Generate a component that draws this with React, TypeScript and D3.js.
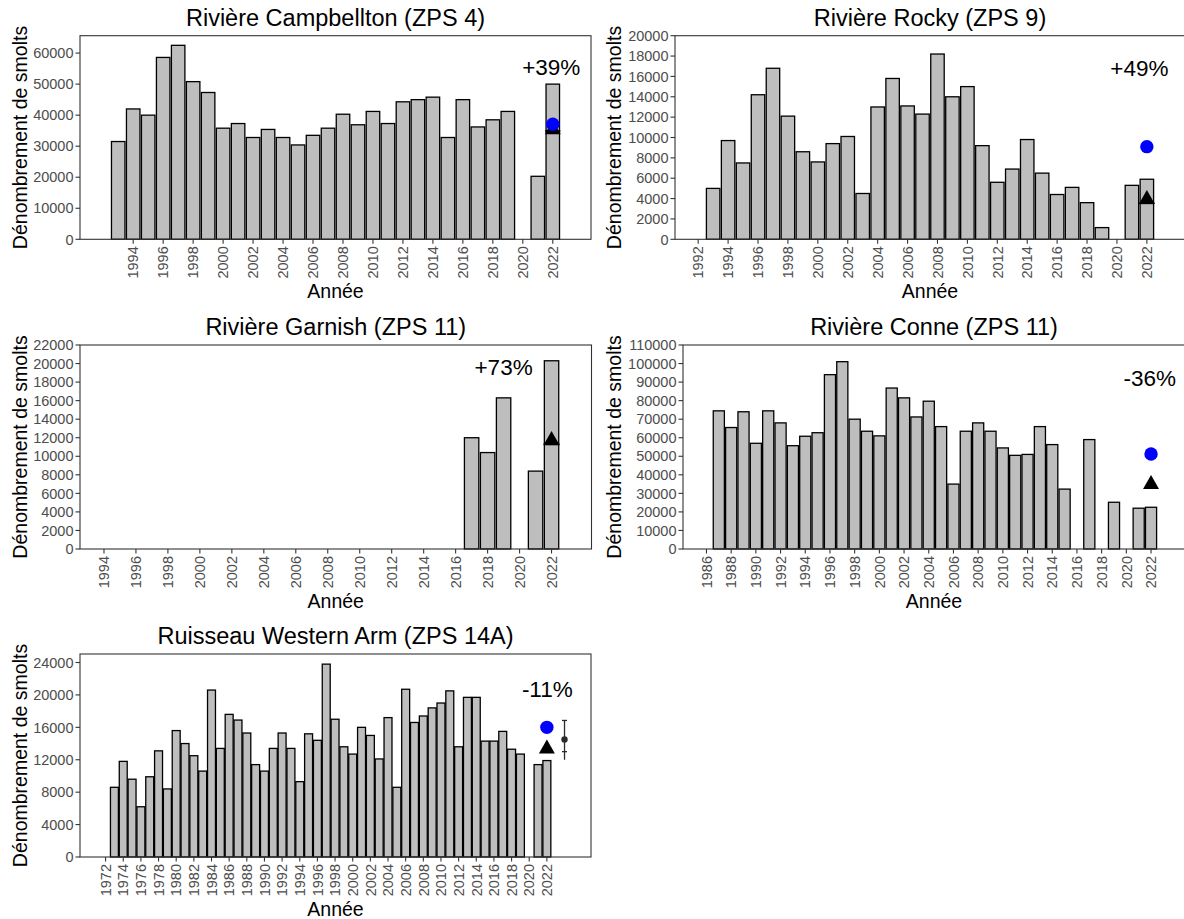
import React from 'react';
import * as d3 from 'd3';

// ---------------- DATA ----------------
const campbelltonYears = [1993, 1994, 1995, 1996, 1997, 1998, 1999, 2000, 2001, 2002, 2003, 2004, 2005, 2006, 2007, 2008, 2009, 2010, 2011, 2012, 2013, 2014, 2015, 2016, 2017, 2018, 2019, 2021, 2022];
const campbelltonCounts = [31500, 42000, 40000, 58600, 62500, 50800, 47300, 35800, 37300, 32800, 35400, 32800, 30400, 33500, 35800, 40300, 36900, 41200, 37300, 44300, 45000, 45800, 32800, 45000, 36200, 38500, 41200, 20300, 50000];
const campbelltonTicksX = [1994, 1996, 1998, 2000, 2002, 2004, 2006, 2008, 2010, 2012, 2014, 2016, 2018, 2020, 2022];
const campbelltonTicksY = [0, 10000, 20000, 30000, 40000, 50000, 60000];

const rockyYears = [1993, 1994, 1995, 1996, 1997, 1998, 1999, 2000, 2001, 2002, 2003, 2004, 2005, 2006, 2007, 2008, 2009, 2010, 2011, 2012, 2013, 2014, 2015, 2016, 2017, 2018, 2019, 2021, 2022];
const rockyCounts = [5000, 9700, 7500, 14200, 16800, 12100, 8600, 7600, 9400, 10100, 4500, 13000, 15800, 13100, 12300, 18200, 14000, 15000, 9200, 5600, 6900, 9800, 6500, 4400, 5100, 3600, 1150, 5300, 5900];
const rockyTicksX = [1992, 1994, 1996, 1998, 2000, 2002, 2004, 2006, 2008, 2010, 2012, 2014, 2016, 2018, 2020, 2022];
const rockyTicksY = [0, 2000, 4000, 6000, 8000, 10000, 12000, 14000, 16000, 18000, 20000];

const garnishYears = [2017, 2018, 2019, 2021, 2022];
const garnishCounts = [12000, 10400, 16300, 8400, 20300];
const garnishTicksX = [1994, 1996, 1998, 2000, 2002, 2004, 2006, 2008, 2010, 2012, 2014, 2016, 2018, 2020, 2022];
const garnishTicksY = [0, 2000, 4000, 6000, 8000, 10000, 12000, 14000, 16000, 18000, 20000, 22000];

const conneYears = [1987, 1988, 1989, 1990, 1991, 1992, 1993, 1994, 1995, 1996, 1997, 1998, 1999, 2000, 2001, 2002, 2003, 2004, 2005, 2006, 2007, 2008, 2009, 2010, 2011, 2012, 2013, 2014, 2015, 2017, 2019, 2021, 2022];
const conneCounts = [74500, 65500, 74000, 57000, 74500, 68000, 55700, 60800, 62700, 94000, 101000, 70000, 63500, 61000, 86800, 81500, 71200, 79700, 66000, 35000, 63500, 68000, 63500, 54500, 50500, 51000, 66000, 56300, 32300, 59000, 25200, 22000, 22500];
const conneTicksX = [1986, 1988, 1990, 1992, 1994, 1996, 1998, 2000, 2002, 2004, 2006, 2008, 2010, 2012, 2014, 2016, 2018, 2020, 2022];
const conneTicksY = [0, 10000, 20000, 30000, 40000, 50000, 60000, 70000, 80000, 90000, 100000, 110000];

const westernArmYears = [1973, 1974, 1975, 1976, 1977, 1978, 1979, 1980, 1981, 1982, 1983, 1984, 1985, 1986, 1987, 1988, 1989, 1990, 1991, 1992, 1993, 1994, 1995, 1996, 1997, 1998, 1999, 2000, 2001, 2002, 2003, 2004, 2005, 2006, 2007, 2008, 2009, 2010, 2011, 2012, 2013, 2014, 2015, 2016, 2017, 2018, 2019, 2021, 2022];
const westernArmCounts = [8600, 11800, 9600, 6200, 9900, 13100, 8400, 15600, 14000, 12500, 10600, 20600, 13400, 17600, 16900, 15300, 11400, 10600, 13400, 15300, 13400, 9300, 15200, 14400, 23800, 17000, 13600, 12700, 16000, 15000, 12100, 17200, 8600, 20700, 16600, 17400, 18400, 19000, 20500, 13600, 19700, 19700, 14300, 14300, 15500, 13300, 12700, 11400, 11900];
const westernArmTicksX = [1972, 1974, 1976, 1978, 1980, 1982, 1984, 1986, 1988, 1990, 1992, 1994, 1996, 1998, 2000, 2002, 2004, 2006, 2008, 2010, 2012, 2014, 2016, 2018, 2020, 2022];
const westernArmTicksY = [0, 4000, 8000, 12000, 16000, 20000, 24000];

// markers for 2022 (blue dot, black triangle, black reference line) in data units
const markerYear = 2022;
const blueValues = [37100, 9100, null, 51200, 16000];
const triangleValues = [36100, 4150, 11970, 36100, 13650];
const refLineValues = [34900, 3550, 11290, null, null];

// percent labels and their anchors (data units)
const pctLabels = ['+39%', '+49%', '+73%', '-36%', '-11%'];
const pctLabelYears = [2021.9, 2021.5, 2019, 2021.9, 2022.05];
const pctLabelValues = [55500, 16800, 19660, 92200, 20750];

// Western Arm estimate with interval
const estimateYear = 2024;
const estimateValue = 14500;
const estimateLow = 12000;
const estimateHigh = 16850;
const estimateCapLow = 13000;

const titles = [
  'Rivière Campbellton (ZPS 4)',
  'Rivière Rocky (ZPS 9)',
  'Rivière Garnish (ZPS 11)',
  'Rivière Conne (ZPS 11)',
  'Ruisseau Western Arm (ZPS 14A)',
];

const FONT = '"Liberation Sans", Arial, Helvetica, sans-serif';

type PanelProps = {
  idx: number;
  years: number[];
  counts: number[];
  ticksX: number[];
  ticksY: number[];
  xDomain: [number, number];
  yMax: number;
  box: { x0: number; x1: number; y0: number; y1: number };
  yTitleX: number;
  errorBar?: boolean;
};

function Panel({ idx, years, counts, ticksX, ticksY, xDomain, yMax, box, yTitleX, errorBar }: PanelProps) {
  const xs = d3.scaleLinear().domain(xDomain).range([box.x0, box.x1]);
  const ys = d3.scaleLinear().domain([0, yMax]).range([box.y1, box.y0]);
  const tickLen = 4.5;
  const tickCol = '#333333';
  const labCol = '#4d4d4d';
  const cx = (box.x0 + box.x1) / 2;
  const cy = (box.y0 + box.y1) / 2;
  const blue = blueValues[idx];
  const tri = triangleValues[idx];
  const ref = refLineValues[idx];
  const mx = xs(markerYear);
  const triW = 16;
  const triH = 14;
  return (
    <g>
      <text x={cx} y={box.y0 - 10} textAnchor="middle" fontSize={23.5} fontFamily={FONT} fill="#000">
        {titles[idx]}
      </text>
      {years.map((yr, i) => (
        <rect
          key={yr}
          x={xs(yr - 0.45)}
          width={xs(yr + 0.45) - xs(yr - 0.45)}
          y={ys(counts[i])}
          height={ys(0) - ys(counts[i])}
          fill="#bebebe"
          stroke="#000"
          strokeWidth={1.3}
        />
      ))}
      {ref != null && (
        <line
          x1={xs(markerYear - 0.5)}
          x2={xs(markerYear + 0.5)}
          y1={ys(ref)}
          y2={ys(ref)}
          stroke="#000"
          strokeWidth={2}
        />
      )}
      {tri != null && (
        <path
          d={`M${mx},${ys(tri) - triH / 2} L${mx + triW / 2},${ys(tri) + triH / 2} L${mx - triW / 2},${ys(tri) + triH / 2} Z`}
          fill="#000"
        />
      )}
      {blue != null && <circle cx={mx} cy={ys(blue)} r={6.7} fill="#0000ff" />}
      {errorBar && (
        <g stroke="#2b2b2b" strokeWidth={1.3}>
          <line x1={xs(estimateYear)} x2={xs(estimateYear)} y1={ys(estimateHigh)} y2={ys(estimateLow)} />
          <line x1={xs(estimateYear) - 2.5} x2={xs(estimateYear) + 2.5} y1={ys(estimateHigh)} y2={ys(estimateHigh)} />
          <line x1={xs(estimateYear) - 2.5} x2={xs(estimateYear) + 2.5} y1={ys(estimateCapLow)} y2={ys(estimateCapLow)} />
          <circle cx={xs(estimateYear)} cy={ys(estimateValue)} r={3.2} fill="#2b2b2b" stroke="none" />
        </g>
      )}
      <text
        x={xs(pctLabelYears[idx])}
        y={ys(pctLabelValues[idx])}
        dy="0.36em"
        textAnchor="middle"
        fontSize={22.5}
        fontFamily={FONT}
        fill="#000"
      >
        {pctLabels[idx]}
      </text>
      <rect x={box.x0} y={box.y0} width={box.x1 - box.x0} height={box.y1 - box.y0} fill="none" stroke="#333333" strokeWidth={1.1} />
      {ticksY.map((t) => (
        <g key={'y' + t}>
          <line x1={box.x0 - tickLen} x2={box.x0} y1={ys(t)} y2={ys(t)} stroke={tickCol} strokeWidth={1.1} />
          <text x={box.x0 - tickLen - 2} y={ys(t)} dy="0.36em" textAnchor="end" fontSize={14.5} fontFamily={FONT} fill={labCol}>
            {t}
          </text>
        </g>
      ))}
      {ticksX.map((t) => (
        <g key={'x' + t}>
          <line x1={xs(t)} x2={xs(t)} y1={box.y1} y2={box.y1 + tickLen} stroke={tickCol} strokeWidth={1.1} />
          <text
            transform={`translate(${xs(t)},${box.y1 + tickLen + 2.5}) rotate(-90)`}
            dy="0.36em"
            textAnchor="end"
            fontSize={14.5}
            fontFamily={FONT}
            fill={labCol}
          >
            {t}
          </text>
        </g>
      ))}
      <text x={cx} y={box.y1 + 58.5} textAnchor="middle" fontSize={19.5} fontFamily={FONT} fill="#000">
        Année
      </text>
      <text
        transform={`translate(${yTitleX},${cy}) rotate(-90)`}
        textAnchor="middle"
        fontSize={19.5}
        fontFamily={FONT}
        fill="#000"
      >
        Dénombrement de smolts
      </text>
    </g>
  );
}

export default function App() {
  return (
    <svg
      width={1184}
      height={919}
      style={{ position: 'absolute', left: 0, top: 0, background: '#fff' }}
    >
      <rect x={0} y={0} width={1184} height={919} fill="#fff" />
      <Panel
        idx={0}
        years={campbelltonYears}
        counts={campbelltonCounts}
        ticksX={campbelltonTicksX}
        ticksY={campbelltonTicksY}
        xDomain={[1990.45, 2024.55]}
        yMax={65600}
        box={{ x0: 80, x1: 591, y0: 35.7, y1: 239.3 }}
        yTitleX={26.5}
      />
      <Panel
        idx={1}
        years={rockyYears}
        counts={rockyCounts}
        ticksX={rockyTicksX}
        ticksY={rockyTicksY}
        xDomain={[1990.45, 2024.55]}
        yMax={20000}
        box={{ x0: 675, x1: 1185, y0: 35.7, y1: 239.3 }}
        yTitleX={620.5}
      />
      <Panel
        idx={2}
        years={garnishYears}
        counts={garnishCounts}
        ticksX={garnishTicksX}
        ticksY={garnishTicksY}
        xDomain={[1992.5, 2024.5]}
        yMax={22000}
        box={{ x0: 80, x1: 591.5, y0: 345, y1: 549 }}
        yTitleX={26.5}
      />
      <Panel
        idx={3}
        years={conneYears}
        counts={conneCounts}
        ticksX={conneTicksX}
        ticksY={conneTicksY}
        xDomain={[1984.1, 2024.75]}
        yMax={110000}
        box={{ x0: 683, x1: 1185, y0: 345, y1: 549 }}
        yTitleX={620.5}
      />
      <Panel
        idx={4}
        years={westernArmYears}
        counts={westernArmCounts}
        ticksX={westernArmTicksX}
        ticksY={westernArmTicksY}
        xDomain={[1969.1, 2027.0]}
        yMax={25050}
        box={{ x0: 80, x1: 591, y0: 654, y1: 857 }}
        yTitleX={26.5}
        errorBar
      />
    </svg>
  );
}
